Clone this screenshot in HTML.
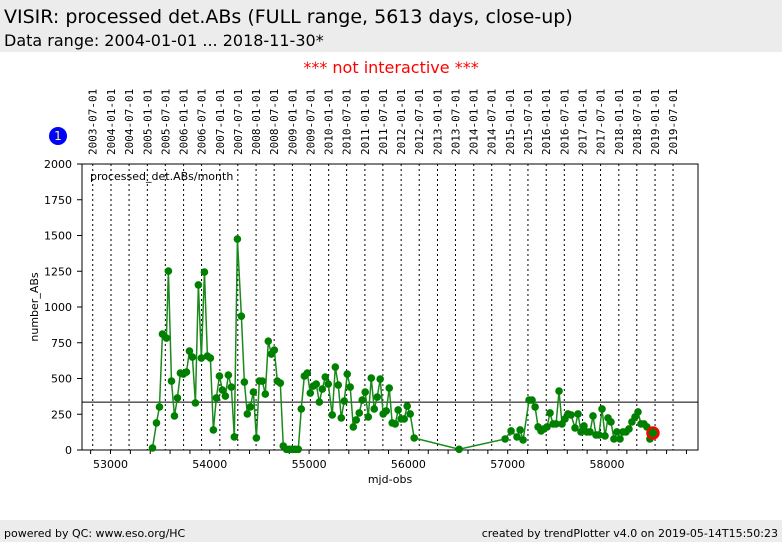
<!DOCTYPE html>
<html><head><meta charset="utf-8"><style>
body{margin:0;width:782px;height:542px;background:#fff;overflow:hidden;font-family:"DejaVu Sans","Liberation Sans",sans-serif;position:relative}
#hdr{position:absolute;left:0;top:0;width:782px;height:52px;background:#ececec}
#t1{position:absolute;left:4px;top:6px;font-size:19px;color:#000;white-space:nowrap}
#t2{position:absolute;left:4px;top:31px;font-size:16px;color:#000;white-space:nowrap}
#ni{position:absolute;left:0;width:782px;top:58px;text-align:center;color:#f00;font-size:16px}
#ftr{position:absolute;left:0;top:520px;width:782px;height:22px;background:#ececec;font-size:11px}
#fl{position:absolute;left:4px;top:7px}#fr{position:absolute;right:4px;top:7px}
svg{position:absolute;left:0;top:0}
</style></head><body>
<div id="hdr">
<div id="t1">VISIR: processed det.ABs (FULL range, 5613 days, close-up)</div>
<div id="t2">Data range: 2004-01-01 ... 2018-11-30*</div></div>
<div id="ni">*** not interactive ***</div>
<svg id="ch" width="782" height="542"></svg>
<div id="ftr"><span id="fl">powered by QC: www.eso.org/HC</span><span id="fr">created by trendPlotter v4.0 on 2019-05-14T15:50:23</span></div>
<script>
const mjd=[53423,53463,53493,53523,53563,53583,53614,53644,53674,53704,53734,53765,53795,53825,53855,53885,53915,53946,53976,54006,54036,54066,54097,54127,54157,54187,54217,54247,54278,54318,54348,54378,54408,54439,54469,54499,54529,54559,54589,54620,54650,54680,54710,54740,54771,54801,54831,54861,54891,54921,54952,54982,55012,55042,55072,55103,55133,55163,55193,55233,55264,55294,55324,55354,55384,55414,55445,55475,55505,55535,55565,55596,55626,55656,55686,55716,55746,55777,55807,55837,55867,55897,55927,55958,55988,56018,56058,56511,56974,57034,57094,57125,57155,57215,57245,57276,57306,57336,57366,57396,57426,57457,57487,57517,57547,57577,57607,57638,57678,57708,57738,57768,57798,57829,57859,57889,57919,57950,57980,58010,58040,58070,58100,58131,58161,58191,58221,58251,58282,58312,58342,58372,58402,58432,58463];
const vals=[14,189,301,811,783,1251,482,238,364,538,531,545,692,650,329,1154,643,1244,657,643,140,364,517,419,377,524,440,91,1475,936,475,252,301,405,84,482,482,391,761,671,699,482,468,28,5,5,5,5,5,287,517,538,398,447,461,335,426,510,461,245,580,454,224,342,531,440,161,210,259,349,405,231,503,287,370,496,252,273,433,189,182,280,217,217,307,252,84,5,77,133,91,140,70,349,349,301,161,133,147,161,259,182,182,412,182,217,252,245,154,252,126,168,126,126,238,105,105,287,98,224,196,77,126,77,126,126,147,196,231,266,182,182,161,77,119];
const yTicks=[0,250,500,750,1000,1250,1500,1750,2000];
const xTicks=[53000,54000,55000,56000,57000,58000];
const refLine=335;
const dates=[];for(let y=2003;y<=2019;y++){for(const m of ['01','07']){const s=y+'-'+m+'-01';if(s>='2003-07-01'&&s<='2019-07-01')dates.push(s);}}
const L=82,R=698,T=164,B=450;
const X=v=>110.5+(v-53000)*0.0993;
const Y=v=>B-(v/2000)*(B-T);
const NS='http://www.w3.org/2000/svg',svg=document.getElementById('ch');
function mk(t,a,p){const e=document.createElementNS(NS,t);for(const k in a)e.setAttribute(k,a[k]);(p||svg).appendChild(e);return e;}
// date lines and labels
dates.forEach(d=>{const m=Date.parse(d+'T00:00:00Z')/86400000+40587;const x=X(m);
const l=mk('line',{x1:x,x2:x,y1:T,y2:B,stroke:'#000','stroke-width':1,'stroke-dasharray':'2,3'});

const t=mk('text',{x:0,y:0,transform:`translate(${x+4},155) rotate(-90)`,'font-size':'11','font-family':'DejaVu Sans Mono,Liberation Mono,monospace',fill:'#000'});t.textContent=d;
});
// frame
const fr=mk('rect',{x:L,y:T,width:R-L,height:B-T,fill:'none',stroke:'#000','stroke-width':1});

// y ticks
yTicks.forEach(v=>{const y=Y(v);mk('line',{x1:L-5,x2:L,y1:y,y2:y,stroke:'#000'});
const t=mk('text',{x:72,y:y+4,'text-anchor':'end','font-size':'11',fill:'#000'});t.textContent=v;
});
// x minor ticks
for(let m=52800;m<=58800;m+=200){const x=X(m);if(x>L&&x<R)mk('line',{x1:x,x2:x,y1:B,y2:B+4,stroke:'#000'});}
xTicks.forEach(v=>{const t=mk('text',{x:X(v),y:468,'text-anchor':'middle','font-size':'11',fill:'#000'});t.textContent=v;
});
let t=mk('text',{x:390,y:483,'text-anchor':'middle','font-size':'11'});t.textContent='mjd-obs';

t=mk('text',{x:0,y:0,transform:'translate(38,307) rotate(-90)','text-anchor':'middle','font-size':'11'});t.textContent='number_ABs';

t=mk('text',{x:90,y:180,'font-size':'11'});t.textContent='processed_det.ABs/month';

// reference line
const rl=mk('line',{x1:L,x2:R,y1:Y(refLine),y2:Y(refLine),stroke:'#000','stroke-width':1});

// series
const pl=mk('polyline',{points:mjd.map((m,i)=>X(m)+','+Y(vals[i])).join(' '),fill:'none',stroke:'#1a8a1a','stroke-width':1.5});

mjd.forEach((m,i)=>{const c=mk('circle',{cx:X(m),cy:Y(vals[i]),r:3.8,fill:'#008000'});
});
const li=mjd.length-1;
const hl=mk('circle',{cx:X(mjd[li]),cy:Y(vals[li]),r:5.5,fill:'#008000',stroke:'#f00','stroke-width':2.5});

// badge
const g=mk('g',{});
mk('circle',{cx:58,cy:136,r:9,fill:'#0000ff'},g);
const bt=mk('text',{x:58,y:140,'text-anchor':'middle','font-size':'12',fill:'#ffff66'},g);bt.textContent='1';
</script></body></html>
